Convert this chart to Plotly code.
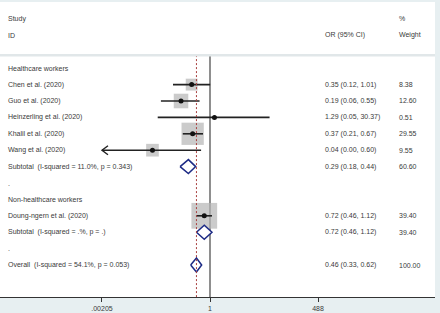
import math
import plotly.graph_objects as go

# ---------------- data ----------------
studies = ["Chen et al. (2020)", "Guo et al. (2020)", "Heinzerling et al. (2020)",
           "Khalil et al. (2020)", "Wang et al. (2020)", "Doung-ngern et al. (2020)"]
study_rows = [4, 5, 6, 7, 8, 12]
study_or = [0.35, 0.19, 1.29, 0.37, 0.037, 0.72]
study_lo = [0.12, 0.06, 0.05, 0.21, 0.002, 0.46]
study_hi = [1.01, 0.55, 30.37, 0.67, 0.60, 1.12]
study_txt = ["0.35 (0.12, 1.01)", "0.19 (0.06, 0.55)", "1.29 (0.05, 30.37)",
             "0.37 (0.21, 0.67)", "0.04 (0.00, 0.60)", "0.72 (0.46, 1.12)"]
study_w = [8.38, 12.60, 0.51, 29.55, 9.55, 39.40]

pooled_labels = ["Subtotal\u00a0\u00a0(I-squared = 11.0%, p = 0.343)",
                 "Subtotal\u00a0\u00a0(I-squared = .%, p = .)",
                 "Overall\u00a0\u00a0(I-squared = 54.1%, p = 0.053)"]
pooled_rows = [9, 13, 15]
pooled_or = [0.29, 0.72, 0.46]
pooled_lo = [0.18, 0.46, 0.33]
pooled_hi = [0.44, 1.12, 0.62]
pooled_txt = ["0.29 (0.18, 0.44)", "0.72 (0.46, 1.12)", "0.46 (0.33, 0.62)"]
pooled_w = ["60.60", "39.40", "100.00"]

other_labels = ["Healthcare workers", ".", "Non-healthcare workers", "."]
other_rows = [3, 10, 11, 14]

tick_vals = [0.00205, 1, 488]
tick_text = [".00205", "1", "488"]

# ---------------- layout constants ----------------
W, H = 440, 313
BG = "#e7eff1"
TXT = "#3a3a3a"
FONT = "Liberation Sans"
FS = 7
px_per_dec = 40.18      # pixels per log10 unit
x_one_px = 210          # pixel of OR = 1
plot_right_px = 435
row0_px, row_h = 19, 16.4
top_px, axis_px = 2, 297

xr = [(0 - x_one_px) / px_per_dec, (plot_right_px - x_one_px) / px_per_dec]
yr = [(axis_px - row0_px) / row_h, (top_px - row0_px) / row_h]
xmin = tick_vals[0]

fig = go.Figure()

# reference line at 1
fig.add_shape(type="line", xref="x", yref="y", x0=1, x1=1, y0=2.2, y1=yr[0],
              line=dict(color="#444444", width=1.2), layer="below")

# weight boxes (drawn first, under CI lines)
fig.add_trace(go.Scatter(x=study_or, y=study_rows, mode="markers",
                         marker=dict(symbol="square", color="#b5b5b5",
                                     size=[4.1 * math.sqrt(w) for w in study_w],
                                     line=dict(width=0)),
                         hoverinfo="skip", showlegend=False))

# CI lines
for r, o, lo, hi in zip(study_rows, study_or, study_lo, study_hi):
    lo_c = max(lo, xmin)
    fig.add_trace(go.Scatter(x=[lo_c, hi], y=[r, r], mode="lines",
                             line=dict(color="#222222", width=1.6),
                             hoverinfo="skip", showlegend=False))
    if lo < xmin:
        dx = 10 ** (6 / px_per_dec)
        dy = 4.5 / row_h
        fig.add_trace(go.Scatter(x=[lo_c * dx, lo_c, lo_c * dx], y=[r - dy, r, r + dy],
                                 mode="lines", line=dict(color="#222222", width=1.4),
                                 hoverinfo="skip", showlegend=False))

# point estimates
fig.add_trace(go.Scatter(x=study_or, y=study_rows, mode="markers",
                         marker=dict(symbol="circle", color="#111111", size=5),
                         hoverinfo="skip", showlegend=False))

# diamonds
hh = 7 / row_h
for r, o, lo, hi in zip(pooled_rows, pooled_or, pooled_lo, pooled_hi):
    fig.add_trace(go.Scatter(x=[lo, o, hi, o, lo], y=[r, r - hh, r, r + hh, r],
                             mode="lines", fill="toself", fillcolor="white",
                             line=dict(color="#1c2a85", width=1.5),
                             hoverinfo="skip", showlegend=False))

fig.add_shape(type="line", xref="x", yref="y", x0=pooled_or[-1], x1=pooled_or[-1],
              y0=2.2, y1=yr[0],
              line=dict(color="#a8403f", width=1, dash="2px,2px"))

# header separator band
fig.add_shape(type="rect", xref="paper", yref="paper", x0=0, x1=plot_right_px / W,
              y0=1 - 56.5 / H, y1=1 - 54 / H, fillcolor="#e1e7e9", line=dict(width=0))

def txt(x_px, row, s):
    fig.add_annotation(x=x_px / W, xref="paper", y=row, yref="y", text=s,
                       showarrow=False, xanchor="left", yanchor="middle",
                       font=dict(family=FONT, size=FS, color=TXT))

txt(6, 0, "Study")
txt(6, 1, "ID")
txt(323, 1, "OR (95% CI)")
txt(397, 0, "%")
txt(397, 1, "Weight")
for s, r, t, w in zip(studies, study_rows, study_txt, study_w):
    txt(6, r, s)
    txt(323, r, t)
    txt(397, r, f"{w:.2f}")
for s, r, t, w in zip(pooled_labels, pooled_rows, pooled_txt, pooled_w):
    txt(6, r, s)
    txt(323, r, t)
    txt(397, r, w)
for s, r in zip(other_labels, other_rows):
    txt(6, r, s)

fig.update_layout(
    width=W, height=H, margin=dict(l=0, r=0, t=0, b=0, autoexpand=False),
    paper_bgcolor=BG, plot_bgcolor="white",
    xaxis=dict(type="log", range=xr, domain=[0, plot_right_px / W], automargin=False,
               tickvals=tick_vals, ticktext=tick_text, ticks="outside", ticklen=4,
               tickcolor="#333333", tickwidth=1, showgrid=False, zeroline=False,
               showline=True, linecolor="#333333", linewidth=1.2,
               tickfont=dict(family=FONT, size=FS, color=TXT), fixedrange=True),
    yaxis=dict(range=yr, domain=[1 - axis_px / H, 1 - top_px / H], showgrid=False,
               automargin=False,
               zeroline=False, showticklabels=False, showline=False, fixedrange=True),
)

fig.write_html("out.html", config={"displayModeBar": False},
               post_script="document.body.style.margin='0';document.body.style.overflow='hidden';")
